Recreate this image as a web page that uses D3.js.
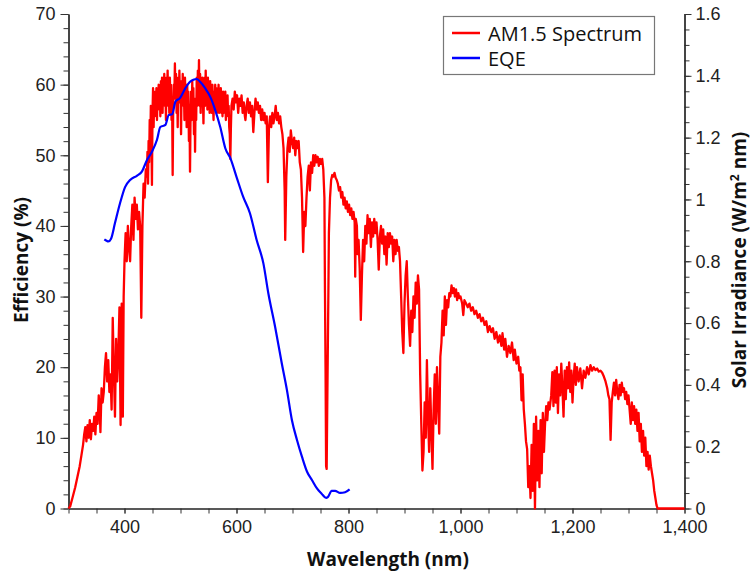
<!DOCTYPE html>
<html>
<head>
<meta charset="utf-8">
<script src="https://cdn.jsdelivr.net/npm/d3@7"></script>
<style>
  body { margin: 0; background: #fff; }
  svg { font-family: "Open Sans", "Noto Sans", sans-serif; }
  .tick text { fill: #222; }
  .axis-title { font-weight: bold; font-size: 19px; fill: #111; }
</style>
</head>
<body>
<div id="chart"></div>
<script>
// AM1.5 spectrum, [wavelength nm, irradiance W/m2 nm] (right axis)
const am15 = [
  [300,0],[303,0.007],[307,0.034],[312,0.069],[316,0.103],[320,0.137],[323,0.171],[326,0.206],[328,0.240],
  [330,0.263],[332,0.217],[334,0.270],[336,0.229],[338,0.286],[340,0.224],[342,0.274],[344,0.251],[346,0.297],
  [348,0.240],[350,0.309],[352,0.274],[354,0.366],[356,0.309],[357,0.247],[359,0.389],[361,0.343],[363,0.377],
  [365,0.457],[367,0.503],[369,0.411],[371,0.480],[373,0.377],[375,0.434],[377,0.320],[379,0.617],[381,0.446],
  [383,0.297],[385,0.549],[387,0.411],[389,0.503],[391,0.651],[393,0.270],[395,0.663],[397,0.297],[398.5,0.686],
  [400,0.800],[402,0.891],[404,0.800],[406,0.914],[408,0.846],[410,0.800],[412,0.914],[414,0.983],[416,0.869],
  [418,1.006],[420,0.937],[422,0.983],[424,0.903],[426,0.960],[428,0.914],[430,0.617],[432,0.914],[434,1.051],
  [436,1.006],[438,1.097],[440,1.074],[441,1.154],[442,1.051],[443,1.189],[444,1.120],[445,1.257],[446,1.166],
  [447,1.303],[448,1.211],[449,1.047],[450,1.280],[451,1.360],[452,1.234],[453,1.326],[454,1.269],[455,1.349],
  [456,1.280],[457,1.360],[458,1.257],[459,1.337],[460,1.291],[461,1.371],[462,1.303],[463,1.360],[464,1.269],
  [465,1.383],[466,1.314],[467,1.394],[468,1.280],[469,1.371],[470,1.326],[471,1.406],[472,1.303],[473,1.371],
  [474,1.257],[475,1.394],[476,1.337],[477,1.417],[478,1.303],[479,1.383],[480,1.280],[481,1.394],[482,1.326],
  [483,1.371],[484,1.257],[485,1.326],[486,1.079],[487,1.303],[488,1.371],[489,1.326],[490,1.440],[491,1.337],
  [492,1.406],[493,1.280],[494,1.371],[495,1.234],[496,1.394],[497,1.314],[498,1.417],[499,1.326],[500,1.383],
  [501,1.211],[502,1.371],[503,1.303],[504,1.406],[505,1.337],[506,1.371],[507,1.257],[508,1.394],[509,1.303],
  [510,1.360],[511,1.234],[512,1.371],[513,1.280],[514,1.349],[515,1.189],[516,1.303],[517,1.090],[518,1.280],
  [519,1.349],[520,1.257],[521,1.383],[522,1.280],[523,1.360],[524,1.211],[525,1.326],[526,1.154],[527,1.326],
  [528,1.257],[529,1.394],[530,1.303],[531,1.417],[532,1.326],[533,1.451],[534,1.303],[535,1.406],[536,1.280],
  [537,1.383],[538,1.314],[539,1.394],[540,1.326],[541,1.246],[542,1.349],[543,1.394],[544,1.303],[545,1.417],
  [546,1.326],[547,1.383],[548,1.291],[549,1.394],[550,1.303],[551,1.371],[552,1.280],[553,1.383],[554,1.314],
  [555,1.360],[556,1.280],[557,1.371],[558,1.303],[559,1.257],[560,1.349],[561,1.303],[562,1.371],[563,1.291],
  [564,1.360],[565,1.280],[566,1.349],[567,1.303],[568,1.371],[569,1.280],[570,1.349],[571,1.314],[572,1.360],
  [573,1.280],[574,1.337],[575,1.269],[576,1.349],[577,1.280],[578,1.337],[579,1.291],[580,1.349],[581,1.257],
  [582,1.326],[583,1.280],[584,1.337],[585,1.269],[586,1.303],[587,1.234],[588,1.211],[589,1.131],[590,1.234],
  [591,1.303],[593,1.326],
  [595,1.291],[597,1.349],[599,1.314],[601,1.337],[603,1.280],[605,1.326],[607,1.303],[609,1.337],[611,1.280],
  [613,1.314],[615,1.269],[616,1.257],[618,1.303],[620,1.326],[622,1.280],[624,1.314],[626,1.269],[628,1.303],
  [630,1.218],[632,1.280],[634,1.326],[636,1.291],[638,1.314],[640,1.280],[642,1.303],[644,1.257],[646,1.291],
  [648,1.257],[650,1.280],[652,1.246],[654,1.269],[656,1.056],[658,1.234],[660,1.269],[662,1.234],[664,1.280],
  [666,1.246],[668,1.269],[670,1.303],[672,1.257],[674,1.280],[676,1.246],[678,1.269],[680,1.234],[682,1.211],
  [684,1.166],[686,1.029],[687,0.869],[689,1.074],[691,1.166],[693,1.200],[695,1.154],[697,1.223],[699,1.189],
  [701,1.166],[703,1.200],[705,1.143],[707,1.189],[709,1.166],[711,1.189],[713,1.120],[715,1.097],[717,1.006],
  [719,0.830],[721,0.960],[723,0.914],[725,1.006],[727,1.074],[729,1.109],[731,1.029],[733,1.120],[735,1.086],
  [737,1.143],[739,1.109],[741,1.143],[743,1.120],[745,1.138],[747,1.109],[749,1.131],[751,1.115],[753,1.131],
  [755,1.097],[757,1.006],[758,0.697],[759,0.457],[760,0.137],[761,0.128],[762,0.320],[763,0.503],[764,0.686],
  [765,0.891],[767,1.006],[769,1.063],[771,1.079],[773,1.074],[775,1.086],[777,1.070],[779,1.063],[781,1.051],
  [783,1.029],[785,1.040],[787,1.006],[789,1.024],[791,0.983],[793,1.006],[795,0.971],[797,0.994],[799,0.960],
  [801,0.983],[803,0.949],[805,0.971],[807,0.937],[809,0.960],[811,0.926],[812,0.750],[813,0.937],[815,0.914],
  [816,0.823],[818,0.869],[820,0.777],[822,0.610],[824,0.754],[826,0.869],[828,0.800],[830,0.914],[832,0.857],
  [834,0.949],[836,0.891],[838,0.937],[840,0.846],[842,0.926],[844,0.880],[846,0.937],[848,0.891],[850,0.926],
  [852,0.869],[854,0.773],[856,0.880],[858,0.914],[860,0.857],[862,0.903],[864,0.823],[866,0.880],[868,0.789],
  [870,0.891],[872,0.846],[874,0.891],[876,0.857],[878,0.880],[880,0.800],[882,0.869],[884,0.823],[886,0.869],
  [888,0.834],[890,0.846],[892,0.800],[894,0.686],[896,0.571],[898,0.503],[900,0.663],[902,0.754],[904,0.800],
  [906,0.686],[908,0.594],[910,0.526],[912,0.640],[914,0.571],[916,0.686],[918,0.617],[920,0.731],[922,0.663],
  [924,0.754],[926,0.709],[928,0.434],[930,0.274],[932,0.123],[934,0.183],[936,0.343],[938,0.229],[940,0.480],
  [942,0.297],[944,0.183],[946,0.389],[948,0.251],[950,0.128],[952,0.320],[954,0.434],[956,0.274],[958,0.457],
  [960,0.343],[962,0.242],[964,0.491],[966,0.537],[968,0.640],[970,0.560],[972,0.686],[974,0.594],[976,0.674],
  [978,0.651],[980,0.697],[982,0.686],[984,0.722],[986,0.697],[988,0.713],[990,0.686],[992,0.709],[994,0.674],
  [996,0.697],[998,0.681],[1000,0.686],[1003,0.663],[1005,0.626],[1007,0.674],[1010,0.663],[1013,0.651],
  [1016,0.663],[1019,0.640],[1022,0.651],[1025,0.629],[1028,0.640],[1031,0.617],[1034,0.629],[1037,0.606],
  [1040,0.617],[1043,0.594],[1046,0.606],[1049,0.571],[1052,0.590],[1055,0.571],[1058,0.583],[1061,0.549],
  [1064,0.571],[1067,0.537],[1070,0.560],[1073,0.526],[1075,0.567],[1078,0.514],[1080,0.549],[1083,0.491],
  [1086,0.526],[1089,0.503],[1092,0.537],[1095,0.480],[1097,0.514],[1100,0.469],[1103,0.491],[1105,0.446],
  [1107,0.457],[1109,0.350],[1111,0.434],[1113,0.320],[1115,0.274],[1117,0.217],[1119,0.192],[1121,0.069],
  [1123,0.137],[1125,0.034],[1127,0.206],[1129,0.057],[1131,0.274],[1133,0],[1135,0.297],[1137,0.091],
  [1139,0.251],[1141,0.069],[1143,0.286],[1145,0.114],[1147,0.309],[1149,0.183],[1151,0.274],[1153,0.331],
  [1155,0.286],[1157,0.343],[1159,0.320],[1162,0.366],[1164,0.441],[1166,0.331],[1168,0.446],[1170,0.343],
  [1172,0.457],[1174,0.309],[1176,0.434],[1178,0.366],[1180,0.469],[1182,0.389],[1184,0.297],[1186,0.446],
  [1188,0.354],[1190,0.457],[1192,0.389],[1194,0.473],[1196,0.377],[1198,0.446],[1200,0.343],[1202,0.423],
  [1204,0.469],[1206,0.400],[1208,0.457],[1211,0.411],[1214,0.453],[1217,0.389],[1220,0.446],[1223,0.423],
  [1226,0.457],[1229,0.434],[1232,0.464],[1235,0.446],[1238,0.457],[1241,0.448],[1244,0.453],[1247,0.443],
  [1250,0.446],[1253,0.439],[1256,0.427],[1259,0.411],[1262,0.389],[1264,0.366],[1266,0.354],[1268,0.222],
  [1270,0.343],[1272,0.377],[1274,0.407],[1276,0.366],[1278,0.416],[1280,0.377],[1282,0.354],[1284,0.400],
  [1286,0.366],[1288,0.407],[1290,0.377],[1292,0.389],[1294,0.354],[1296,0.377],[1298,0.338],[1300,0.366],
  [1302,0.320],[1304,0.274],[1306,0.343],[1308,0.286],[1310,0.331],[1312,0.274],[1314,0.320],[1316,0.251],
  [1318,0.309],[1320,0.217],[1322,0.274],[1324,0.183],[1326,0.251],[1328,0.171],[1330,0.229],[1332,0.137],
  [1334,0.183],[1336,0.126],[1338,0.171],[1340,0.137],[1342,0.114],[1344,0.091],[1346,0.057],[1348,0.034],
  [1350,0.011],[1352,0],[1400,0]
];

// EQE, [wavelength nm, efficiency %] (left axis)
const eqe = [
  [364,38.1],[368,37.9],[371,37.8],[376,38.2],[383,40.4],[392,43.2],[401,45.5],[410,46.5],[422,47.1],
  [431,47.7],[440,49.3],[449,50.5],[458,52.2],[464,54],[473,54.3],[479,55.7],[485,55.8],[491,57.6],
  [499,58.1],[508,59.4],[517,60.4],[523,60.7],[529,60.8],[535,60.4],[544,59.5],[553,58.3],[562,56.4],
  [571,54],[580,51],[589,49.6],[601,46.7],[612,44.1],[624,41.8],[636,38],[648,34.7],[657,30.4],
  [669,25.7],[681,20.5],[690,16.8],[699,12.5],[708,9.7],[717,7.3],[726,5.2],[735,4],[744,2.8],
  [752,2.1],[760,1.5],[763,1.6],[770,2.5],[776,2.5],[785,2.2],[794,2.3],[802,2.7]
];

const xMajorTicks = [400, 600, 800, 1000, 1200, 1400];
const yLeftTicks = [0, 10, 20, 30, 40, 50, 60, 70];
const yRightTicks = [0, 0.2, 0.4, 0.6, 0.8, 1, 1.2, 1.4, 1.6];
const seriesNames = ['AM1.5 Spectrum', 'EQE'];
const seriesColors = ['#ff0000', '#0000ff'];

const width = 751, height = 573;
const margin = { top: 14, right: 66.5, bottom: 64.5, left: 68.5 };
const innerW = width - margin.left - margin.right;
const innerH = height - margin.top - margin.bottom;

const svg = d3.select('#chart').append('svg')
  .attr('width', width)
  .attr('height', height);

const g = svg.append('g')
  .attr('transform', `translate(${margin.left},${margin.top})`);

const x = d3.scaleLinear().domain([300, 1400]).range([0, innerW]);
const yLeft = d3.scaleLinear().domain([0, 70]).range([innerH, 0]);
const yRight = d3.scaleLinear().domain([0, 1.6]).range([innerH, 0]);

// minor ticks first
g.append('g')
  .attr('transform', `translate(0,${innerH})`)
  .call(d3.axisBottom(x).tickValues(d3.range(300, 1401, 50)).tickSize(5).tickSizeOuter(0).tickFormat(''));
g.append('g')
  .call(d3.axisLeft(yLeft).tickValues(d3.range(0, 71, 2)).tickSize(5).tickSizeOuter(0).tickFormat(''));
g.append('g')
  .attr('transform', `translate(${innerW},0)`)
  .call(d3.axisRight(yRight).tickValues(d3.range(0, 33).map(i => i * 0.05)).tickSize(5).tickSizeOuter(0).tickFormat(''));

g.append('g')
  .attr('transform', `translate(0,${innerH})`)
  .call(d3.axisBottom(x).tickValues(xMajorTicks).tickSize(5).tickPadding(7).tickSizeOuter(0)
    .tickFormat(d3.format(',')));
g.append('g')
  .call(d3.axisLeft(yLeft).tickValues(yLeftTicks).tickSize(8).tickPadding(5).tickSizeOuter(0));
g.append('g')
  .attr('transform', `translate(${innerW},0)`)
  .call(d3.axisRight(yRight).tickValues(yRightTicks).tickSize(7).tickPadding(4).tickSizeOuter(0)
    .tickFormat(d => String(+d.toFixed(1))));

g.selectAll('.domain').attr('stroke', '#222').attr('stroke-width', 1.2);
g.selectAll('.tick line').attr('stroke', '#333');
g.selectAll('.tick text').attr('font-size', 18);

// series
const lineR = d3.line().x(d => x(d[0])).y(d => yRight(d[1]));
const lineL = d3.line().x(d => x(d[0])).y(d => yLeft(d[1])).curve(d3.curveMonotoneX);

g.append('path')
  .datum(am15)
  .attr('fill', 'none')
  .attr('stroke', seriesColors[0])
  .attr('stroke-width', 2.3)
  .attr('stroke-linejoin', 'round')
  .attr('d', lineR);

g.append('path')
  .datum(eqe)
  .attr('fill', 'none')
  .attr('stroke', seriesColors[1])
  .attr('stroke-width', 2.2)
  .attr('stroke-linejoin', 'round')
  .attr('d', lineL);

// titles
svg.append('text')
  .attr('class', 'axis-title')
  .attr('x', 388)
  .attr('y', 566)
  .attr('text-anchor', 'middle')
  .text('Wavelength (nm)');

svg.append('text')
  .attr('class', 'axis-title')
  .attr('transform', 'translate(28,260) rotate(-90)')
  .attr('text-anchor', 'middle')
  .text('Efficiency (%)');

const rt = svg.append('text')
  .attr('class', 'axis-title')
  .attr('transform', 'translate(746,260) rotate(-90)')
  .attr('text-anchor', 'middle');
rt.append('tspan').text('Solar Irradiance (W/m');
rt.append('tspan').attr('dy', -7).attr('font-size', 12).text('2');
rt.append('tspan').attr('dy', 7).text(' nm)');

// legend
const legend = svg.append('g');
legend.append('rect')
  .attr('x', 443.5).attr('y', 16.5)
  .attr('width', 211).attr('height', 58)
  .attr('fill', '#fff')
  .attr('stroke', '#777')
  .attr('stroke-width', 1.2);

seriesNames.forEach((name, i) => {
  const ly = 33 + i * 25;
  legend.append('line')
    .attr('x1', 452).attr('x2', 480)
    .attr('y1', ly).attr('y2', ly)
    .attr('stroke', seriesColors[i])
    .attr('stroke-width', 2.5);
  legend.append('text')
    .attr('x', 488).attr('y', ly + 7.5)
    .attr('font-size', 20)
    .attr('fill', '#111')
    .text(name);
});
</script>
</body>
</html>
